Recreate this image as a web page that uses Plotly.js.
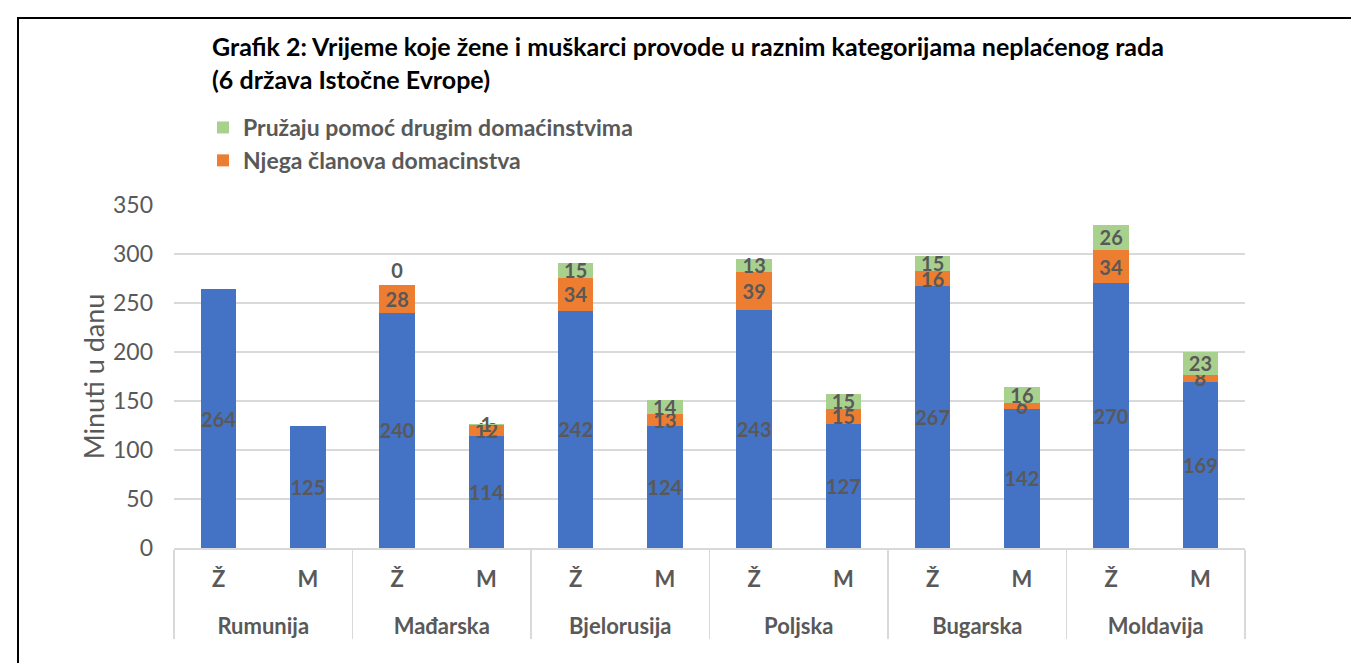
<!DOCTYPE html>
<html><head><meta charset="utf-8">
<script src="https://cdn.plot.ly/plotly-3.0.1.min.js"></script>
<style>
html,body{margin:0;padding:0;background:#fff;overflow:hidden;}
#frame{position:absolute;left:17px;top:17px;width:1400px;height:700px;border:2px solid #000;box-sizing:border-box;}
#chart{position:absolute;left:0;top:0;width:1351px;height:663px;}
</style></head><body>
<div id="frame"></div>
<div id="chart"></div>
<script>
const countries = ['Rumunija','Mađarska','Bjelorusija','Poljska','Bugarska','Moldavija'];
const sexes = ['Ž','M'];
const basicName = 'Ostali neplaćeni rad';
const careName = 'Njega članova domacinstva';
const helpName = 'Pružaju pomoć drugim domaćinstvima';
const basicValues = [264,125,240,114,242,124,243,127,267,142,270,169];
const careValues = [null,null,28,12,34,13,39,15,16,6,34,8];
const helpValues = [null,null,0,1,15,14,13,15,15,16,26,23];
const yTicks = [0,50,100,150,200,250,300,350];

// outer level gets a leading line break so it sits lower, as in the reference
const outer = countries.flatMap(c => sexes.map(() => '<br>' + c));
const inner = countries.flatMap(() => sexes.slice());
const xCats = [outer, inner];

const FONT = 'Lato, "Open Sans", sans-serif';
const GRAY = '#595959';

function barTrace(name, vals, color, group, showlegend, rank) {
  return {
    type: 'bar', name: name, x: xCats, y: vals,
    marker: {color: color, line: {width: 0}},
    text: vals.map(v => v === null ? '' : String(v)),
    textposition: vals.map(v => v === 0 ? 'outside' : 'inside'),
    insidetextanchor: 'middle', textangle: 0,
    constraintext: 'none', cliponaxis: false,
    textfont: {family: FONT, size: 20, color: GRAY, weight: 'bold'},
    showlegend: showlegend, legendgroup: group, legendrank: rank,
    hoverinfo: 'y+name'
  };
}

const data = [
  barTrace(basicName, basicValues, '#4472C4', 'a', false, 3),
  barTrace(careName, careValues, '#ED7D31', 'b', true, 2),
  barTrace(helpName, helpValues, '#A9D18E', 'c', true, 1)
];

const layout = {
  width: 1351, height: 663,
  paper_bgcolor: 'rgba(0,0,0,0)', plot_bgcolor: 'rgba(0,0,0,0)',
  margin: {l: 174, r: 106, t: 205, b: 115, autoexpand: false},
  barmode: 'stack', bargap: 0.6,
  font: {family: FONT, color: GRAY},
  uniformtext: {mode: 'show', minsize: 20},
  title: {
    text: '<b>Grafik 2: Vrijeme koje žene i muškarci provode u raznim kategorijama neplaćenog rada<br>(6 država Istočne Evrope)</b>',
    font: {family: FONT, size: 25, color: '#000'},
    xref: 'container', yref: 'container', x: 212/1351, xanchor: 'left',
    y: 1 - 56/663, yanchor: 'top', align: 'left', automargin: false
  },
  legend: {
    xref: 'paper', yref: 'paper', x: (203-174)/1071, xanchor: 'left',
    y: (548-106)/343, yanchor: 'top',
    traceorder: 'grouped', tracegroupgap: 0,
    font: {family: FONT, size: 23, color: GRAY, weight: 'bold'},
    bgcolor: 'rgba(0,0,0,0)'
  },
  xaxis: {
    type: 'multicategory',
    showline: true, linecolor: '#d9d9d9', linewidth: 1.5,
    showgrid: false, ticks: '',
    showdividers: true, dividercolor: '#d9d9d9', dividerwidth: 1.5,
    ticklabelstandoff: 11,
    tickfont: {family: FONT, size: 22, color: GRAY, weight: 'bold'},
    automargin: false
  },
  yaxis: {
    range: [0, 350], tickvals: yTicks, ticktext: yTicks.map(String),
    showgrid: true, gridcolor: '#d9d9d9', gridwidth: 1.5,
    zeroline: false, showline: false, ticks: '',
    ticklabelstandoff: 20,
    tickfont: {family: FONT, size: 23, color: GRAY},
    title: {text: 'Minuti u danu', font: {family: FONT, size: 27, color: GRAY}, standoff: 0},
    automargin: false
  }
};

Plotly.newPlot('chart', data, layout, {displayModeBar: false, staticPlot: true});
</script>
</body></html>
